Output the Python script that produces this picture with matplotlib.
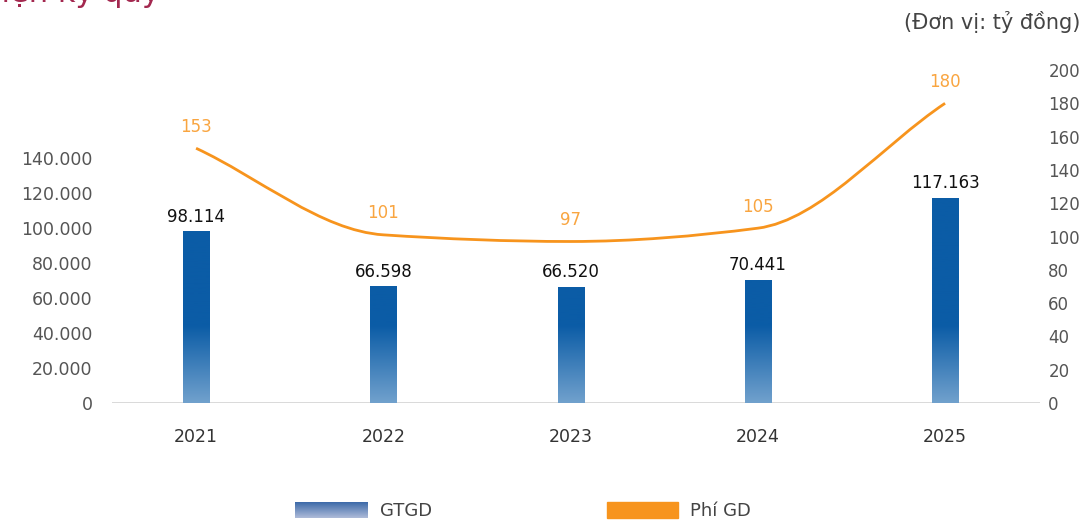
import numpy as np
import matplotlib
matplotlib.use("Agg")
import matplotlib.pyplot as plt
from matplotlib.path import Path
from matplotlib.patches import PathPatch, Rectangle
from matplotlib.colors import to_rgb

# Dati
years = ["2021", "2022", "2023", "2024", "2025"]
gtgd = [98114, 66598, 66520, 70441, 117163]      # GTGD (tỷ đồng)
phi_gd = [153, 101, 97, 105, 180]                 # Phí GD (tỷ đồng)
left_ticks = [0, 20000, 40000, 60000, 80000, 100000, 120000, 140000]
right_ticks = [0, 20, 40, 60, 80, 100, 120, 140, 160, 180, 200]

# Colori
DARK = "#0b5ca6"
LIGHT = "#71a1cd"
ORANGE = "#f7941d"
ORANGE_TXT = "#f9a540"
GREY = "#555555"

plt.rcParams["font.family"] = ["DejaVu Sans"]

W, H = 1084, 523
fig = plt.figure(figsize=(W / 100, H / 100), dpi=100)
ax = fig.add_axes([112 / W, 120 / H, 928 / W, 333 / H])
ax2 = ax.twinx()

XLIM = (-0.449, 4.507)
YLIM = (0, 190286)
x = np.arange(len(years))


def dot_fmt(v):
    return f"{v:,}".replace(",", ".")


# Barre con gradiente (scuro in alto, chiaro in basso fino a ~44.000)
bars = ax.bar(x, gtgd, width=0.139, color="none", edgecolor="none", zorder=2)
ys = np.linspace(YLIM[0], YLIM[1], 400)
t = np.clip(ys / 44000, 0, 1)[:, None]
grad = (1 - t) * np.array(to_rgb(LIGHT)) + t * np.array(to_rgb(DARK))
grad = grad[:, None, :]
for b in bars:
    im = ax.imshow(grad, extent=(XLIM[0], XLIM[1], YLIM[0], YLIM[1]),
                   origin="lower", aspect="auto", zorder=2)
    im.set_clip_path(b)

for xi, v in zip(x, gtgd):
    ax.annotate(dot_fmt(v), (xi, v), xytext=(0, 4), textcoords="offset points",
                ha="center", va="bottom", fontsize=12, color="#111111")

ax.set_xlim(*XLIM)
ax.set_ylim(*YLIM)
ax2.set_ylim(0, 200)

# Linea smussata (cubica monotona resa con curve di Bézier)
px = np.array(x, dtype=float)
py = np.array(phi_gd, dtype=float)
d = np.diff(py) / np.diff(px)
m = np.zeros_like(py)
m[0], m[-1] = d[0], d[-1]
for i in range(1, len(py) - 1):
    if d[i - 1] * d[i] > 0:
        m[i] = 2 * d[i - 1] * d[i] / (d[i - 1] + d[i])
verts = [(px[0], py[0])]
codes = [Path.MOVETO]
for i in range(len(py) - 1):
    h = px[i + 1] - px[i]
    verts += [(px[i] + h / 3, py[i] + m[i] * h / 3),
              (px[i + 1] - h / 3, py[i + 1] - m[i + 1] * h / 3),
              (px[i + 1], py[i + 1])]
    codes += [Path.CURVE4] * 3
ax2.add_patch(PathPatch(Path(verts, codes), fill=False, edgecolor=ORANGE,
                        lw=2, zorder=3))
for xi, v in zip(x, phi_gd):
    ax2.annotate(str(v), (xi, v), xytext=(0, 9), textcoords="offset points",
                 ha="center", va="bottom", fontsize=12, color=ORANGE_TXT)

# Assi
for a in (ax, ax2):
    for s in a.spines.values():
        s.set_visible(False)
ax.axhline(0, color="#d6d6d6", lw=2, zorder=1)
ax.set_xticks(x)
ax.set_xticklabels(years)
ax.set_yticks(left_ticks)
ax.set_yticklabels([dot_fmt(v) for v in left_ticks])
ax.tick_params(axis="x", length=0, pad=18, labelsize=12.5, labelcolor="#333333")
ax.tick_params(axis="y", length=0, pad=14, labelsize=12.5, labelcolor=GREY)
ax2.set_yticks(right_ticks)
ax2.tick_params(axis="y", length=0, pad=6, labelsize=12, labelcolor=GREY)

# Testi
fig.text(1080 / W, 1 - 22 / H, "(Đơn vị: tỷ đồng)", ha="right", va="center",
         fontsize=15, color="#444444")
fig.text(160 / W, 1 - 2 / H, "Giá trị giao dịch thực hiện kỳ quỹ", ha="right",
         va="baseline", fontsize=22, color="#a3284f")

# Legenda
lax = fig.add_axes([295 / W, 5 / H, 73 / W, 16 / H])
lt = np.linspace(0, 1, 50)[:, None]
lg = (1 - lt) * np.array(to_rgb("#aebbd9")) + lt * np.array(to_rgb("#3d6aa8"))
lax.imshow(lg[:, None, :], origin="lower", aspect="auto")
lax.axis("off")
fig.text(380 / W, 1 - 511 / H, "GTGD", ha="left", va="center", fontsize=13,
         color="#444444")
fig.patches.append(Rectangle((607 / W, 5 / H), 71 / W, 16 / H,
                             transform=fig.transFigure, color=ORANGE))
fig.text(690 / W, 1 - 511 / H, "Phí GD", ha="left", va="center", fontsize=13,
         color="#444444")

fig.savefig("out.png", dpi=100)
